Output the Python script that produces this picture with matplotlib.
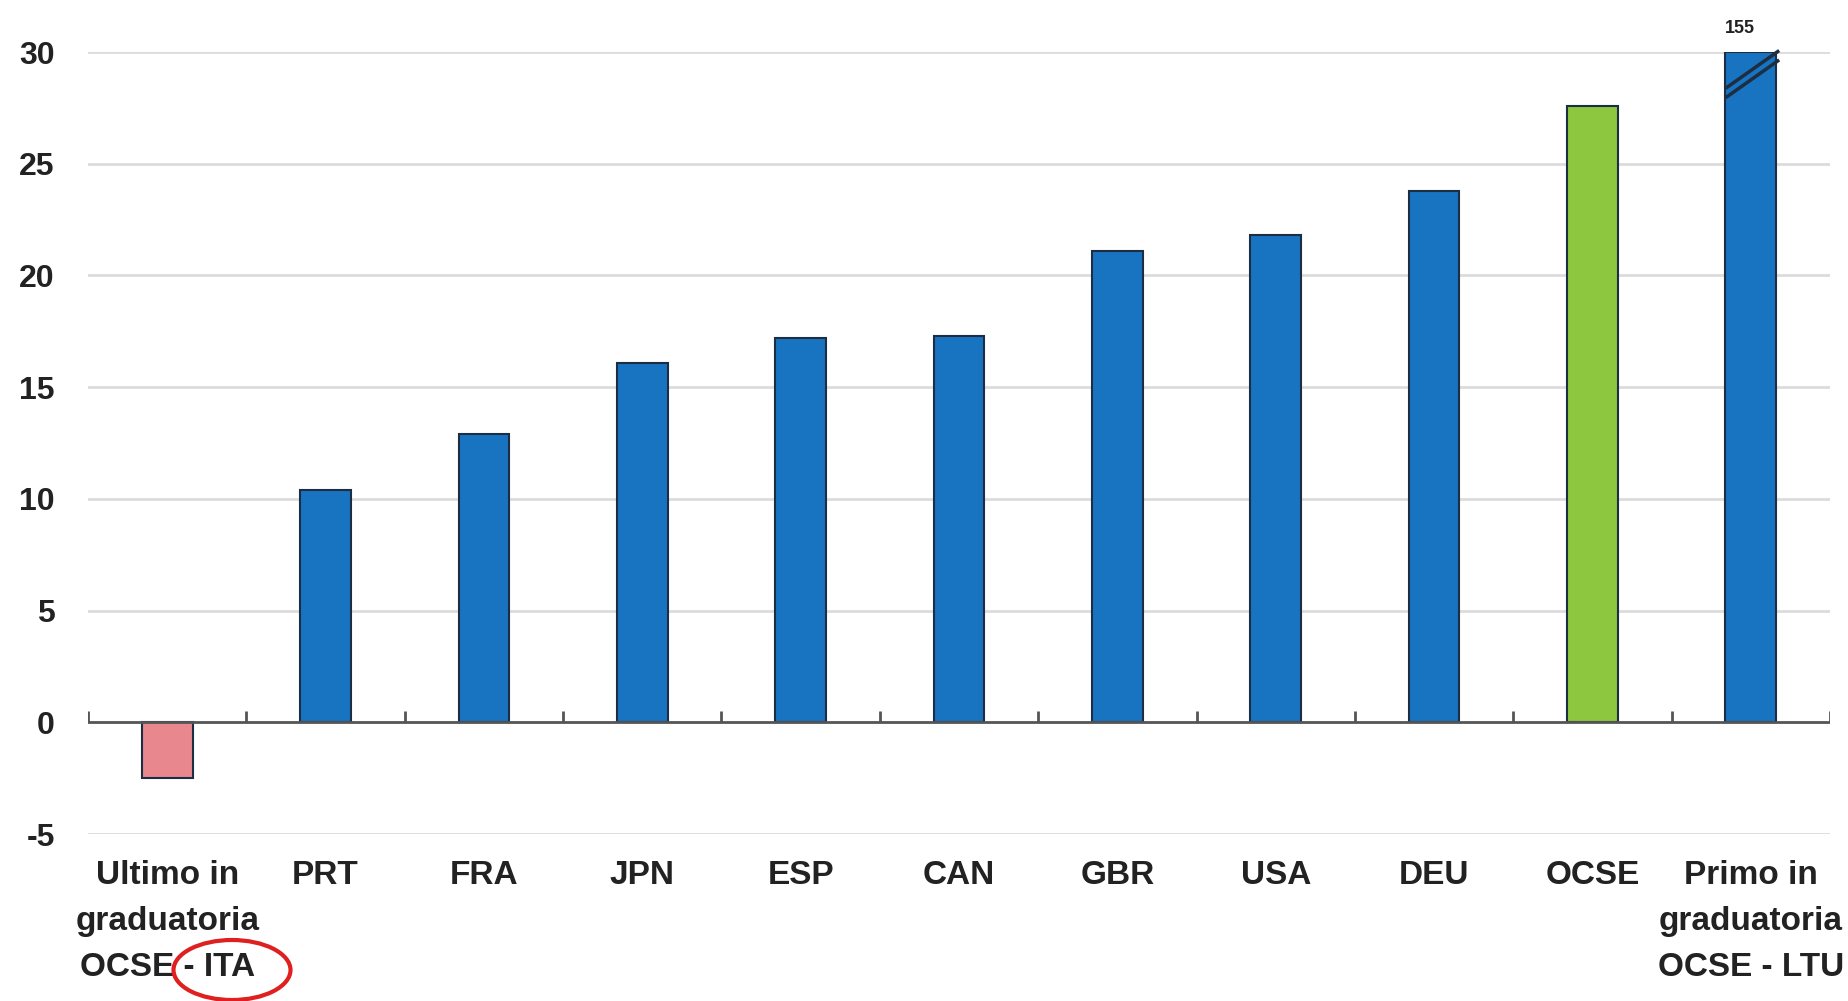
import matplotlib.pyplot as plt
import numpy as np
from matplotlib.patches import Ellipse

# data
labels = ['Ultimo in\ngraduatoria\nOCSE - ITA', 'PRT', 'FRA', 'JPN', 'ESP', 'CAN',
          'GBR', 'USA', 'DEU', 'OCSE', 'Primo in\ngraduatoria\nOCSE - LTU']
values = [-2.5, 10.4, 12.9, 16.1, 17.2, 17.3, 21.1, 21.8, 23.8, 27.6, 155]
colors = ['#e8878e'] + ['#1874c0'] * 8 + ['#8dc63f', '#1874c0']
cap = 30          # axis top, the LTU bar is cut here
yticks = [-5, 0, 5, 10, 15, 20, 25, 30]

plt.rcParams['font.family'] = ['Liberation Sans', 'DejaVu Sans']
plt.rcParams['font.weight'] = 'bold'

fig = plt.figure(figsize=(18.49, 10.01), dpi=100)
ax = fig.add_axes([88/1849, 1-834/1001, (1830-88)/1849, (834-52)/1001])

x = np.arange(len(values))
shown = np.minimum(values, cap)
ax.bar(x, shown, width=0.32, color=colors, edgecolor='#1b2e44', linewidth=1.5, zorder=3)

ax.set_xlim(-0.5, len(values) - 0.5)
ax.set_ylim(-5, cap)
for s in ax.spines.values():
    s.set_visible(False)

# grid lines
for y in yticks:
    if y != 0:
        ax.axhline(y, color='#dcdcdc', lw=2, zorder=1)
ax.axhline(0, color='#555555', lw=2, zorder=4)
# little category ticks on the zero line
bounds = np.arange(len(values) + 1) - 0.5
ax.vlines(bounds, 0, 0.5, color='#555555', lw=2, zorder=4)

ax.set_yticks(yticks)
ax.set_yticklabels([str(v) for v in yticks], fontsize=23, fontweight='bold', color='#222222')
ax.tick_params(axis='y', length=0, pad=24)
ax.set_xticks(x)
ax.set_xticklabels(labels, fontsize=24, fontweight='bold', color='#222222', linespacing=1.62)
ax.tick_params(axis='x', length=0, pad=19)

# break mark and real value of the capped bar
i = len(values) - 1
for dy in (0, 0.42):
    ax.plot([i - 0.15, i + 0.17], [cap - 2.0 + dy, cap - 0.4 + dy], color='#1b2e44', lw=2.5,
            zorder=5, clip_on=False)
ax.annotate(str(values[i]), (i - 0.07, cap), xytext=(0, 11), textcoords='offset points',
            ha='center', va='bottom', fontsize=13, fontweight='bold', color='#222222',
            annotation_clip=False)

# red circle around "- ITA"
fig.patches.append(Ellipse((232/1849, 1-970/1001), 117/1849, 60/1001, transform=fig.transFigure,
                           fill=False, edgecolor='#e02020', lw=3))

plt.savefig('out.png', dpi=100)
